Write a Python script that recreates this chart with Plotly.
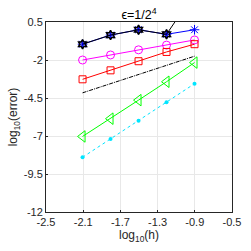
import plotly.graph_objects as go

log_h = [-2.107, -1.806, -1.505, -1.204, -0.903]
blue_star = [-0.96, -0.36, -0.01, -0.31, -0.01]
black_hex = [-0.96, -0.36, -0.01, -0.31, 2.4]
magenta_circ = [-2.0, -1.67, -1.33, -1.02, -0.68]
red_sq = [-3.27, -2.68, -2.08, -1.47, -0.96]
ref_slope2 = [-4.16, -1.75]
ref_x = [-2.107, -0.903]
green_tri = [-7.03, -5.86, -4.64, -3.43, -2.17]
cyan_dot = [-8.4, -7.2, -5.99, -4.78, -3.56]

x_ticks = [-2.5, -2.1, -1.7, -1.3, -0.9, -0.5]
y_ticks = [0.5, -2, -4.5, -7, -9.5, -12]

fig = go.Figure()
fig.add_trace(go.Scatter(x=log_h, y=blue_star, mode="lines+markers",
                         line=dict(color="#0000ff", width=1),
                         marker=dict(symbol="asterisk-open", size=8, line=dict(color="#0000ff", width=1))))
fig.add_trace(go.Scatter(x=log_h, y=black_hex, mode="lines+markers",
                         line=dict(color="#000000", width=1),
                         marker=dict(symbol="hexagram-open", size=7, line=dict(color="#000000", width=1.5))))
fig.add_trace(go.Scatter(x=log_h, y=magenta_circ, mode="lines+markers",
                         line=dict(color="#ff00ff", width=1),
                         marker=dict(symbol="circle-open", size=8, line=dict(color="#ff00ff", width=1))))
fig.add_trace(go.Scatter(x=log_h, y=red_sq, mode="lines+markers",
                         line=dict(color="#ff0000", width=1),
                         marker=dict(symbol="square-open", size=7, line=dict(color="#ff0000", width=1))))
fig.add_trace(go.Scatter(x=ref_x, y=ref_slope2, mode="lines",
                         line=dict(color="#000000", width=1, dash="4px,1px,1px,1px")))
fig.add_trace(go.Scatter(x=log_h, y=green_tri, mode="lines+markers",
                         line=dict(color="#00ff00", width=1),
                         marker=dict(symbol="triangle-left-open", size=10, line=dict(color="#00ff00", width=1))))
fig.add_trace(go.Scatter(x=log_h, y=cyan_dot, mode="lines+markers",
                         line=dict(color="#00e5ff", width=1, dash="3px,3px"),
                         marker=dict(symbol="circle", size=4, color="#00e5ff")))

axis_common = dict(showgrid=True, gridcolor="#e8e8e8", gridwidth=1,
                   showline=True, linecolor="#262626", linewidth=1, mirror=True,
                   zeroline=False, ticks="inside", ticklen=2, tickcolor="#262626",
                   ticklabeloverflow="allow",
                   tickfont=dict(family="Liberation Sans, Arial, sans-serif", size=11, color="#262626"))

fig.update_layout(
    width=251, height=251,
    margin=dict(l=46, r=10, t=22, b=39),
    paper_bgcolor="white", plot_bgcolor="white",
    showlegend=False,
    hovermode=False,
    font=dict(family="Liberation Sans, Arial, sans-serif", color="#262626"),
    title=dict(text="ϵ=1/2<sup>4</sup>", xref="paper", x=0.5, xanchor="center",
               yref="container", y=0.94, yanchor="middle",
               font=dict(size=12.5, color="#000000")),
    xaxis=dict(range=[-2.5, -0.5], tickvals=x_ticks, ticktext=[str(v) for v in x_ticks],
               title=dict(text="log<sub>10</sub>(h)", font=dict(size=12), standoff=2), **axis_common),
    yaxis=dict(range=[-12, 0.5], tickvals=y_ticks, ticktext=[str(v) for v in y_ticks],
               title=dict(text="log<sub>10</sub>(error)", font=dict(size=12), standoff=3), **axis_common),
)

fig.write_html("out.html", config={"displayModeBar": False, "staticPlot": True},
               post_script="document.body.style.margin='0';document.body.style.overflow='hidden';")
